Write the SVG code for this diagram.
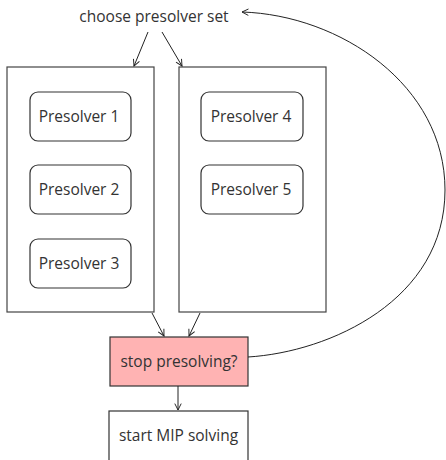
<svg xmlns="http://www.w3.org/2000/svg" width="446" height="460" viewBox="0 0 446 460">
  <style>
    .lbl { font-family: "Open Sans", "Noto Sans", sans-serif; font-size: 15.5px; fill: #333; text-anchor: middle; dominant-baseline: central; }
    .frame { fill: #fff; stroke: #444; stroke-width: 1.2; }
    .step { fill: #fff; stroke: #333; stroke-width: 1.2; }
    .edge { fill: none; stroke: #222; stroke-width: 1; marker-end: url(#arrow); }
  </style>
  <defs>
    <marker id="arrow" viewBox="0 0 10 10" refX="9" refY="5" markerWidth="8" markerHeight="8" markerUnits="userSpaceOnUse" orient="auto">
      <path d="M1,1 L9,5 L1,9" fill="none" stroke="#222" stroke-width="1.2"/>
    </marker>
  </defs>
  <rect width="446" height="460" fill="#fff"/>

  <g id="choose">
    <text class="lbl" x="154" y="16">choose presolver set</text>
  </g>

  <g id="set1">
    <rect class="frame" x="7" y="67" width="147" height="245"/>
  </g>
  <g id="set2">
    <rect class="frame" x="179" y="67" width="147" height="245"/>
  </g>

  <g id="presolver1">
    <rect class="step" x="30" y="92" width="101" height="49" rx="8"/>
    <text class="lbl" x="79" y="116">Presolver 1</text>
  </g>
  <g id="presolver2">
    <rect class="step" x="30" y="165" width="101" height="49" rx="8"/>
    <text class="lbl" x="79" y="189">Presolver 2</text>
  </g>
  <g id="presolver3">
    <rect class="step" x="30" y="239" width="101" height="49" rx="8"/>
    <text class="lbl" x="79" y="263">Presolver 3</text>
  </g>
  <g id="presolver4">
    <rect class="step" x="201" y="92" width="102" height="49" rx="8"/>
    <text class="lbl" x="251" y="116">Presolver 4</text>
  </g>
  <g id="presolver5">
    <rect class="step" x="201" y="165" width="102" height="49" rx="8"/>
    <text class="lbl" x="251" y="189">Presolver 5</text>
  </g>

  <g id="stop">
    <rect x="110" y="337" width="138" height="49" fill="#ffb3b3" stroke="#333" stroke-width="1.2"/>
    <text class="lbl" x="179" y="361">stop presolving?</text>
  </g>

  <g id="mip">
    <rect x="109" y="411" width="139" height="60" fill="#fff" stroke="#333" stroke-width="1.2"/>
    <text class="lbl" x="178.5" y="435">start MIP solving</text>
  </g>

  <g id="connectors">
    <path class="edge" d="M148,32 L134,66"/>
    <path class="edge" d="M162,32 L182,66"/>
    <path class="edge" d="M152,313 L164,336"/>
    <path class="edge" d="M200,313 L189,336"/>
    <path class="edge" d="M178,386 L178,410"/>
    <path class="edge" d="M248,357 C330,352 445,300 445,190 C445,85 340,15 242,12"/>
  </g>
</svg>
